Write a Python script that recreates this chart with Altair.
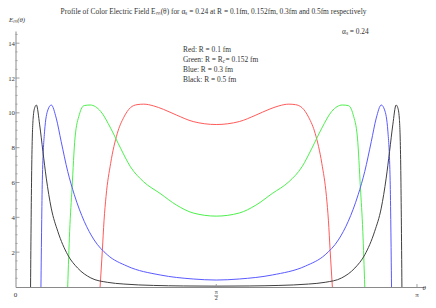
import altair as alt
import pandas as pd

# ---------------- data (theta in units of pi, E_m values) ----------------
red_t = [0.2107, 0.2163, 0.2205, 0.2255, 0.2370, 0.2533, 0.2699, 0.2864, 0.3027, 0.3192,
         0.3439, 0.3685, 0.4013, 0.4425, 0.5,
         0.5575, 0.5987, 0.6315, 0.6561, 0.6808, 0.6973, 0.7136, 0.7301, 0.7467, 0.7630,
         0.7745, 0.7795, 0.7837, 0.7893]
red_e = [0, 2.1, 3.8, 5.2, 7.1, 8.8, 9.75, 10.3, 10.47, 10.5,
         10.4, 10.2, 9.87, 9.5, 9.33,
         9.5, 9.87, 10.2, 10.4, 10.5, 10.47, 10.3, 9.75, 8.8, 7.1,
         5.2, 3.8, 2.1, 0]

green_t = [0.1300, 0.1349, 0.1409, 0.1482, 0.1589, 0.1712, 0.1860, 0.2124, 0.2370, 0.2617,
           0.2864, 0.3192, 0.3604, 0.4013, 0.4425, 0.5,
           0.5575, 0.5987, 0.6396, 0.6808, 0.7136, 0.7383, 0.7630, 0.7876, 0.8140, 0.8288,
           0.8411, 0.8518, 0.8591, 0.8651, 0.8700]
green_e = [0, 3.2, 5.7, 8.55, 9.89, 10.42, 10.45, 10.08, 9.12, 7.97,
           6.9, 6.04, 5.37, 4.7, 4.25, 4.07,
           4.25, 4.7, 5.37, 6.04, 6.9, 7.97, 9.12, 10.08, 10.45, 10.42,
           9.89, 8.55, 5.7, 3.2, 0]

blue_t = [0.0634, 0.0651, 0.0668, 0.0725, 0.0807, 0.0890, 0.1014, 0.1137, 0.1300, 0.1465,
          0.1712, 0.1959, 0.2287, 0.2780, 0.3604, 0.4425, 0.5,
          0.5575, 0.6396, 0.7220, 0.7713, 0.8041, 0.8288, 0.8535, 0.8700, 0.8863, 0.8986,
          0.9110, 0.9193, 0.9275, 0.9332, 0.9349, 0.9366]
blue_e = [0, 3.5, 6.1, 8.95, 10.17, 10.45, 9.7, 8.36, 6.64, 5.3,
          3.77, 2.7, 1.85, 1.2, 0.69, 0.46, 0.4,
          0.46, 0.69, 1.2, 1.85, 2.7, 3.77, 5.3, 6.64, 8.36, 9.7,
          10.45, 10.17, 8.95, 6.1, 3.5, 0]

black_t = [0.0375, 0.0390, 0.0405, 0.0440, 0.0479, 0.0520, 0.0602, 0.0683, 0.0767, 0.0890,
           0.1053, 0.1300, 0.1547, 0.1877, 0.2287, 0.2699, 0.3439, 0.4179, 0.5,
           0.5821, 0.6561, 0.7301, 0.7713, 0.8123, 0.8453, 0.8700, 0.8947, 0.9110, 0.9233,
           0.9317, 0.9398, 0.9480, 0.9521, 0.9560, 0.9595, 0.9610, 0.9625]
black_e = [0, 4.0, 7.0, 9.7, 10.3, 10.45, 9.31, 7.78, 6.25, 4.53,
           3.2, 1.85, 1.09, 0.52, 0.27, 0.17, 0.09, 0.06, 0.05,
           0.06, 0.09, 0.17, 0.27, 0.52, 1.09, 1.85, 3.2, 4.53, 6.25,
           7.78, 9.31, 10.45, 10.3, 9.7, 7.0, 4.0, 0]

series_names = ["Red", "Green", "Blue", "Black"]
series_colors = ["#ff5a5a", "#4cf04c", "#5a5aff", "#404040"]

y_major = [2, 4, 6, 8, 10, 12, 14]
y_minor = [0.5, 1, 1.5, 2.5, 3, 3.5, 4.5, 5, 5.5, 6.5, 7, 7.5, 8.5, 9, 9.5,
           10.5, 11, 11.5, 12.5, 13, 13.5, 14.5]
x_ticks = [0.5, 1]
x_label_vals = [0, 1]
x_label_text = ["0", "π"]

# ---------------- layout ----------------
W, H = 408.5, 256
FONT = "Liberation Serif"
AXIS_COLOR = "#8a8a8a"
TXT = "#333333"
FS = 7.4

rows = []
for name, ts, es in [("Red", red_t, red_e), ("Green", green_t, green_e),
                     ("Blue", blue_t, blue_e), ("Black", black_t, black_e)]:
    for i, (t, e) in enumerate(zip(ts, es)):
        rows.append({"series": name, "t": t, "E": e, "order": i})
df = pd.DataFrame(rows)

xscale = alt.Scale(domain=[0, 1.0175], nice=False, zero=False, padding=0)
yscale = alt.Scale(domain=[0, 14.7], nice=False, padding=0)
xaxis = alt.Axis(labels=False, ticks=False, grid=False, title=None,
                 domainColor=AXIS_COLOR, domainWidth=1)
yaxis = alt.Axis(values=y_major, ticks=False, grid=False, title=None,
                 domainColor=AXIS_COLOR, domainWidth=1, labelPadding=1,
                 labelFont=FONT, labelFontSize=6.8, labelColor=TXT)

lines = alt.Chart(df).mark_line(strokeWidth=1, interpolate="monotone").encode(
    x=alt.X("t:Q", scale=xscale, axis=xaxis),
    y=alt.Y("E:Q", scale=yscale, axis=yaxis),
    color=alt.Color("series:N", scale=alt.Scale(domain=series_names, range=series_colors),
                    legend=None),
    detail="series:N",
    order="order:Q",
)

ymaj = alt.Chart(pd.DataFrame({"v": y_major})).mark_rule(color=AXIS_COLOR, strokeWidth=0.8).encode(
    y=alt.Y("v:Q", scale=yscale, axis=yaxis), x=alt.value(0), x2=alt.value(4))
ymin = alt.Chart(pd.DataFrame({"v": y_minor})).mark_rule(color=AXIS_COLOR, strokeWidth=0.6).encode(
    y=alt.Y("v:Q", scale=yscale, axis=yaxis), x=alt.value(0), x2=alt.value(2.2))
xtk = alt.Chart(pd.DataFrame({"v": x_ticks})).mark_rule(color=AXIS_COLOR, strokeWidth=0.8).encode(
    x=alt.X("v:Q", scale=xscale, axis=xaxis), y=alt.value(H), y2=alt.value(H - 3))

xlab = alt.Chart(pd.DataFrame({"v": x_label_vals, "lab": x_label_text})).mark_text(
    font=FONT, fontSize=7, color=TXT, align="center", baseline="alphabetic").encode(
    x=alt.X("v:Q", scale=xscale, axis=xaxis), y=alt.value(H + 10), text="lab:N")
half = pd.DataFrame({"v": [0.5]})
xhalf_pi = alt.Chart(half).mark_text(text="π", font=FONT, fontSize=6, color=TXT,
                                     align="center", baseline="alphabetic").encode(
    x=alt.X("v:Q", scale=xscale, axis=xaxis), y=alt.value(H + 7.3))
xhalf_bar = alt.Chart(half).mark_rule(color=TXT, strokeWidth=0.5, xOffset=-2, x2Offset=2).encode(
    x=alt.X("v:Q", scale=xscale, axis=xaxis), x2=alt.X2("v"), y=alt.value(H + 8.8))
xhalf_two = alt.Chart(half).mark_text(text="2", font=FONT, fontSize=6, color=TXT,
                                      align="center", baseline="alphabetic").encode(
    x=alt.X("v:Q", scale=xscale, axis=xaxis), y=alt.value(H + 12.8))


def label(text, x, y, size=FS, align="left", italic=False):
    kw = dict(text=text, font=FONT, fontSize=size, color=TXT, align=align, baseline="alphabetic")
    if italic:
        kw["fontStyle"] = "italic"
    return alt.Chart(alt.Data(values=[{}])).mark_text(**kw).encode(
        x=alt.value(x), y=alt.value(y))


title = label("Profile of Color Electric Field Eₘ(θ) for αₛ = 0.24 at R = 0.1fm, 0.152fm, 0.3fm and 0.5fm respectively",
              198, -17, size=7.4, align="center")
ylab = label("Eₘ(θ)", -6.5, -9, size=6.8, italic=True)
thlab = label("θ", 407, 259, size=7, italic=True)
alab = label("αₛ  =  0.24", 326.5, 3)
leg1 = label("Red: R = 0.1 fm", 167.5, 21)
leg2a = label("Green: R = R", 167.5, 30.5)
leg2b = label("c", 207.3, 32.4, size=5.4, italic=True)
leg2c = label("  =  0.152 fm", 210, 30.5)
leg3 = label("Blue: R = 0.3 fm", 167.5, 40.5)
leg4 = label("Black: R = 0.5 fm", 167.5, 50.5)

chart = alt.layer(
    lines, ymaj, ymin, xtk, xlab, xhalf_pi, xhalf_bar, xhalf_two,
    title, ylab, thlab, alab, leg1, leg2a, leg2b, leg2c, leg3, leg4,
).properties(
    width=W, height=H,
    autosize=alt.AutoSizeParams(type="none"),
    padding={"left": 7.5, "top": 23, "right": 3, "bottom": 13},
    background="white",
).configure_view(strokeWidth=0)

chart.save("out.html", embed_options={"renderer": "svg", "actions": False})
